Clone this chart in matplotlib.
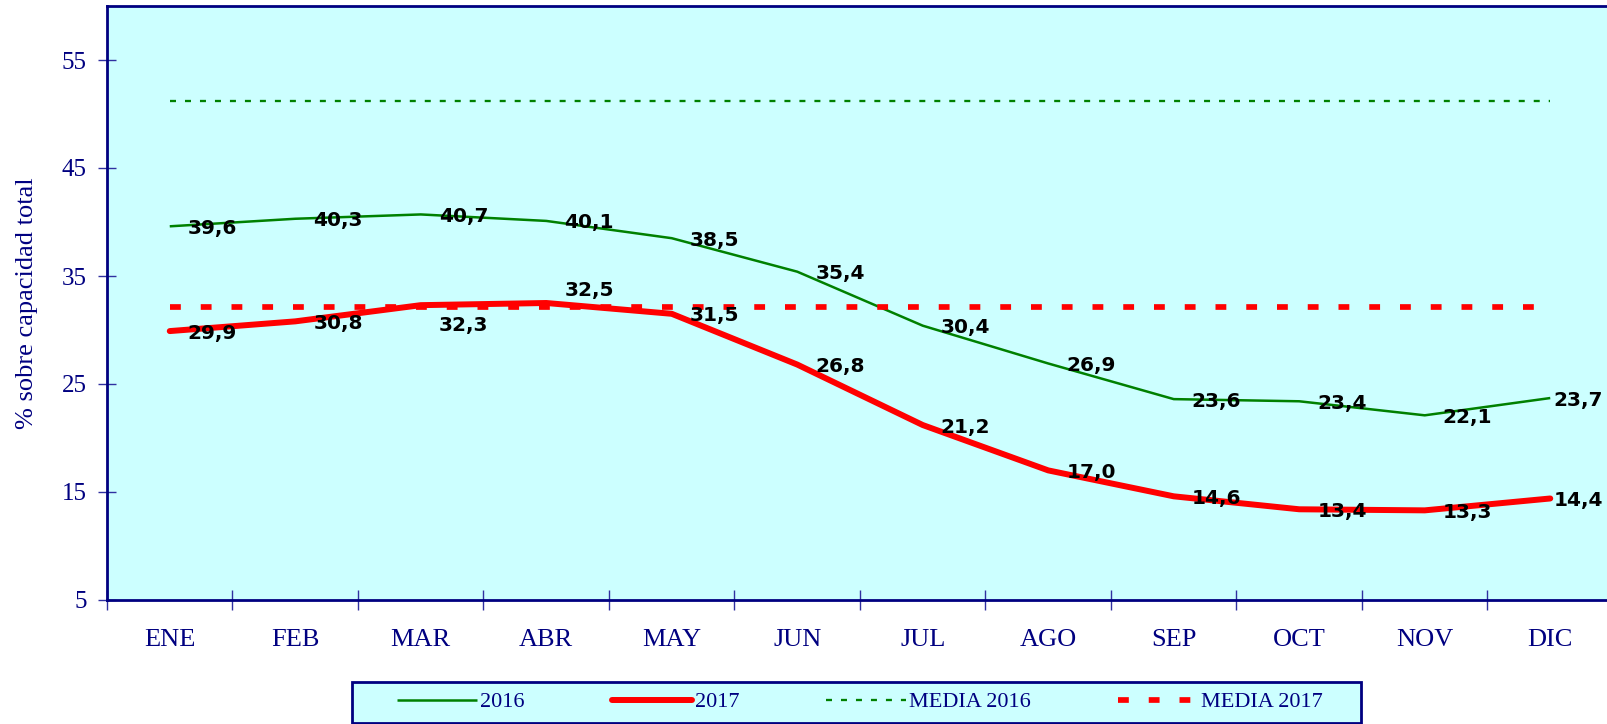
import matplotlib
matplotlib.use("Agg")
import matplotlib.pyplot as plt
from matplotlib.patches import Rectangle

months = ['ENE', 'FEB', 'MAR', 'ABR', 'MAY', 'JUN', 'JUL', 'AGO', 'SEP', 'OCT', 'NOV', 'DIC']
vals_2016 = [39.6, 40.3, 40.7, 40.1, 38.5, 35.4, 30.4, 26.9, 23.6, 23.4, 22.1, 23.7]
vals_2017 = [29.9, 30.8, 32.3, 32.5, 31.5, 26.8, 21.2, 17.0, 14.6, 13.4, 13.3, 14.4]
media_2016 = 51.2
media_2017 = 32.1
yticks = [5, 15, 25, 35, 45, 55]

# label nudges in pixels (Excel moved a few labels off their default spot)
dx_lab = [18] * 11 + [3]
dy_2016 = [0] * 12
dy_2017 = [0, 0, -18, 15, 0, 0, 0, 0, 0, 0, 0, 0]

navy = '#000080'
bg = '#CCFFFF'
green = '#008000'
red = '#FF0000'

plt.rcParams['font.family'] = ['Liberation Serif', 'DejaVu Serif']

fig = plt.figure(figsize=(16.08, 7.24), dpi=100)
W, H = 1608, 724
ax = fig.add_axes([107 / W, (H - 600) / H, 1506 / W, 594 / H])
ax.set_facecolor(bg)

x = list(range(len(months)))
ax.plot(x, vals_2016, color=green, lw=1.8, label='2016', solid_capstyle='butt')
ax.plot(x, vals_2017, color=red, lw=4.3, label='2017', solid_capstyle='round')
ax.plot(x, [media_2016] * len(x), color=green, lw=1.66, linestyle=(0, (2.6, 3.9)),
        dash_capstyle='butt', label='MEDIA 2016')
ax.plot(x, [media_2017] * len(x), color=red, lw=4.1, linestyle=(0, (1.9, 3.5)),
        dash_capstyle='butt', label='MEDIA 2017')

for vals, dys in [(vals_2016, dy_2016), (vals_2017, dy_2017)]:
    for i, v in enumerate(vals):
        ax.annotate(f"{v:.1f}".replace('.', ','), (i, v), xytext=(dx_lab[i], dys[i]),
                    textcoords='offset pixels', ha='left', va='center_baseline',
                    fontsize=14.5, fontweight='bold', family='DejaVu Sans', color='black')

ax.set_xlim(-0.5, 11.5)
ax.set_ylim(5, 60)
ax.set_yticks(yticks)
ax.set_yticklabels([str(t) for t in yticks])
ax.set_xticks(x)
ax.set_xticklabels(months)
ax.set_xticks([i - 0.5 for i in range(13)], minor=True)
ax.tick_params(axis='x', which='major', length=0, pad=21, labelsize=19, labelcolor=navy)
ax.tick_params(axis='x', which='minor', direction='inout', length=14, width=1, color='#3030A0')
ax.tick_params(axis='y', direction='inout', length=13, width=1, color='#3030A0',
               pad=8, labelsize=18, labelcolor=navy)

for s in ['left', 'bottom', 'top']:
    ax.spines[s].set_color(navy)
    ax.spines[s].set_linewidth(2)
ax.spines['right'].set_visible(False)

ax.set_ylabel('% sobre capacidad total', fontsize=19, color=navy)
ax.yaxis.set_label_coords(-0.046, 0.5)

# legend box
box = Rectangle((352 / W, 1 - 723 / H), 1009 / W, 41 / H, transform=fig.transFigure,
                facecolor=bg, edgecolor=navy, lw=2, zorder=0)
fig.patches.append(box)
leg = fig.legend(loc='center', bbox_to_anchor=(860 / W, 1 - 702 / H), ncol=4,
                 frameon=False, fontsize=16, handlelength=3.6, handletextpad=0.15,
                 columnspacing=3.9, borderpad=0)
for t in leg.get_texts():
    t.set_color(navy)

fig.savefig('out.png', dpi=100)
